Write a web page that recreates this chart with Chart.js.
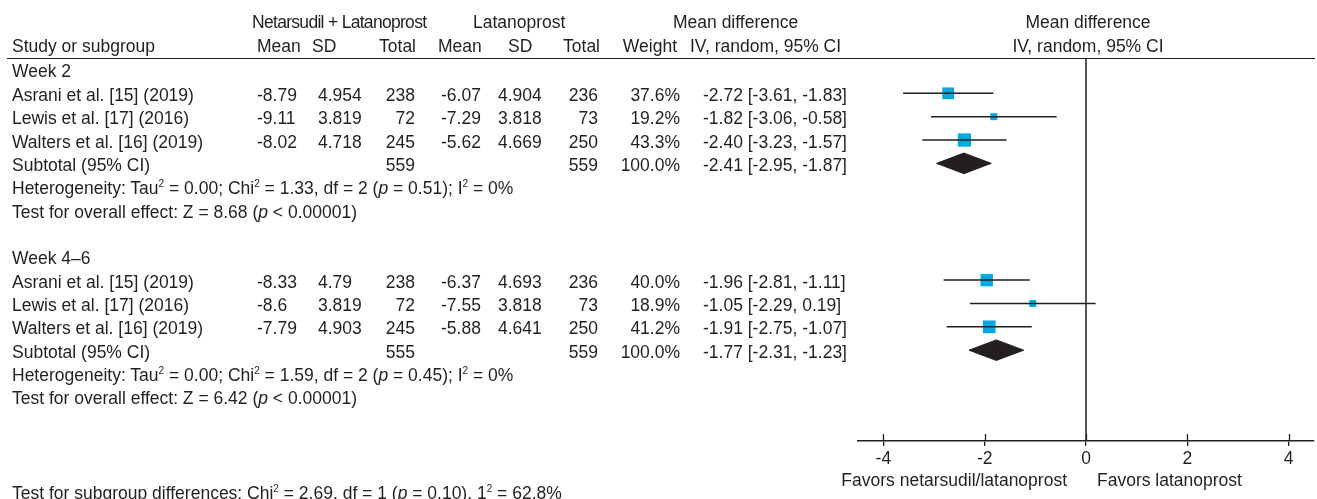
<!DOCTYPE html>
<html><head><meta charset="utf-8">
<script src="https://cdn.jsdelivr.net/npm/chart.js@4/dist/chart.umd.min.js"></script>
<style>
html,body{margin:0;padding:0;background:#fff;}
#wrap{position:relative;width:1317px;height:499px;overflow:hidden;background:#fff;}
#c{position:absolute;left:0;top:0;}
#txt{position:absolute;left:0;top:0;width:1317px;height:499px;pointer-events:none;font-family:"Liberation Sans",Arial,Helvetica,sans-serif;font-size:17.5px;color:#231f20;}
.t{position:absolute;white-space:nowrap;line-height:20px;}
.l{transform:translate(0,-50%);}
.r{transform:translate(-100%,-50%);}
.c{transform:translate(-50%,-50%);}
.tight{letter-spacing:-0.7px;}
sup{font-size:10px;vertical-align:7px;line-height:0;}
#hline{position:absolute;left:7px;width:1308px;height:1.5px;background:#231f20;}
</style></head>
<body><div id="wrap"><canvas id="c" width="1317" height="499"></canvas><div id="txt"></div></div>
<script>
// ---------- DATA ----------
const groups = ["Week 2", "Week 4\u20136"];
const studies = ["Asrani et al. [15] (2019)", "Lewis et al. [17] (2016)", "Walters et al. [16] (2019)"];
// Netarsudil + Latanoprost
const nlMean = [[-8.79, -9.11, -8.02], [-8.33, -8.6, -7.79]];
const nlSD   = [[4.954, 3.819, 4.718], [4.79, 3.819, 4.903]];
const nlN    = [[238, 72, 245], [238, 72, 245]];
// Latanoprost
const lMean  = [[-6.07, -7.29, -5.62], [-6.37, -7.55, -5.88]];
const lSD    = [[4.904, 3.818, 4.669], [4.693, 3.818, 4.641]];
const lN     = [[236, 73, 250], [236, 73, 250]];
// Mean difference
const weight = [[37.6, 19.2, 43.3], [40.0, 18.9, 41.2]];
const md     = [[-2.72, -1.82, -2.40], [-1.96, -1.05, -1.91]];
const ciLo   = [[-3.61, -3.06, -3.23], [-2.81, -2.29, -2.75]];
const ciHi   = [[-1.83, -0.58, -1.57], [-1.11, 0.19, -1.07]];
// Subtotals
const subNlN = [559, 555];
const subLN  = [559, 559];
const subWeight = [100.0, 100.0];
const subMD  = [-2.41, -1.77];
const subLo  = [-2.95, -2.31];
const subHi  = [-1.87, -1.23];
// Heterogeneity / overall effect
const tau2 = [0.00, 0.00];
const chi2 = [1.33, 1.59];
const dfHet = [2, 2];
const pHet = [0.51, 0.45];
const i2 = [0, 0];
const zVal = [8.68, 6.42];
const pZ = ["< 0.00001", "< 0.00001"];
// Subgroup differences
const sgChi2 = 2.69, sgDf = 1, sgP = 0.10, sgI2 = 62.8;
// Axis
const xTicks = [-4, -2, 0, 2, 4];
const xRange = [-4.5, 4.5];
const groupStartRow = [0, 8];

// ---------- BUILD ----------
const INK = '#231f20', BLUE = '#00a9e0';
const datasets = [];
const markerPts = [], markerR = [];
groups.forEach((g, gi) => {
  const base = groupStartRow[gi];
  studies.forEach((s, si) => {
    const row = base + 1 + si;
    datasets.push({data: [{x: ciLo[gi][si], y: row}, {x: ciHi[gi][si], y: row}],
      borderColor: INK, borderWidth: 1.5, pointRadius: 0, fill: false});
    markerPts.push({x: md[gi][si], y: row});
    const side = 2 + 0.26 * weight[gi][si];
    markerR.push(side / Math.SQRT2);
  });
  const r = base + 4, h = 0.44;
  datasets.push({data: [{x: subLo[gi], y: r}, {x: subMD[gi], y: r - h}, {x: subHi[gi], y: r}, {x: subMD[gi], y: r + h}, {x: subLo[gi], y: r}],
    borderColor: INK, borderWidth: 1, backgroundColor: INK, pointRadius: 0, fill: 'shape', tension: 0});
});
datasets.push({data: markerPts, showLine: false, pointStyle: 'rect', pointRadius: markerR,
  pointBackgroundColor: BLUE, pointBorderWidth: 0, pointBorderColor: BLUE});
const yMin = -0.47, yMax = 15.89;
datasets.push({data: [{x: 0, y: yMin}, {x: 0, y: yMax}], borderColor: INK, borderWidth: 1.5, pointRadius: 0, fill: false});

const stubPlugin = {
  id: 'stubs',
  afterDatasetsDraw(chart) {
    const xs = chart.scales.x, ctx = chart.ctx;
    ctx.save(); ctx.strokeStyle = INK; ctx.lineWidth = 1.3;
    xs.ticks.forEach(t => {
      const px = Math.round(xs.getPixelForValue(t.value)) + 0.5;
      ctx.beginPath(); ctx.moveTo(px, xs.top); ctx.lineTo(px, xs.top - 7); ctx.stroke();
    });
    ctx.restore();
  }
};

const chart = new Chart(document.getElementById('c'), {
  type: 'line',
  data: {datasets},
  plugins: [stubPlugin],
  options: {
    responsive: false, animation: false, events: [],
    layout: {autoPadding: false, padding: {left: 858, right: 3, top: 59, bottom: 0}},
    plugins: {legend: {display: false}, tooltip: {enabled: false}},
    scales: {
      x: {type: 'linear', position: 'bottom', min: xRange[0], max: xRange[1],
        afterBuildTicks: s => { s.ticks = xTicks.map(v => ({value: v})); },
        afterFit: s => { s.height = 58; s.paddingLeft = 0; s.paddingRight = 0; },
        grid: {display: true, drawOnChartArea: false, drawTicks: true, tickLength: 5, color: INK, lineWidth: 1.3},
        border: {display: true, color: INK, width: 1.5},
        ticks: {color: INK, padding: 3, autoSkip: false, maxRotation: 0,
          font: {family: '"Liberation Sans", Arial, sans-serif', size: 17.5},
          callback: v => String(v)}
      },
      y: {type: 'linear', display: false, reverse: true, min: yMin, max: yMax}
    }
  }
});

// ---------- TEXT ----------
const txt = document.getElementById('txt');
const ys = chart.scales.y, xs = chart.scales.x;
const py = r => ys.getPixelForValue(r) + 1.5;
function put(html, x, y, cls) {
  const d = document.createElement('div');
  d.className = 't ' + cls; d.innerHTML = html;
  d.style.left = x + 'px'; d.style.top = y + 'px';
  txt.appendChild(d);
}
const f2 = v => v.toFixed(2);
const hdr1 = py(-2.12), hdr2 = py(-1.08);
put('Netarsudil + Latanoprost', 252, hdr1, 'l tight');
put('Latanoprost', 473, hdr1, 'l');
put('Mean difference', 673, hdr1, 'l');
put('Mean difference', xs.getPixelForValue(0) + 2, hdr1, 'c');
put('Study or subgroup', 12, hdr2, 'l');
put('Mean', 257, hdr2, 'l'); put('SD', 312, hdr2, 'l'); put('Total', 416, hdr2, 'r');
put('Mean', 438, hdr2, 'l'); put('SD', 508, hdr2, 'l'); put('Total', 600, hdr2, 'r');
put('Weight', 677, hdr2, 'r'); put('IV, random, 95% CI', 690, hdr2, 'l');
put('IV, random, 95% CI', xs.getPixelForValue(0) + 2, hdr2, 'c');
const hl = document.createElement('div'); hl.id = 'hline'; hl.style.top = (ys.top - 1.5) + 'px'; txt.appendChild(hl);

groups.forEach((g, gi) => {
  const base = groupStartRow[gi];
  put(g, 12, py(base), 'l');
  studies.forEach((s, si) => {
    const y = py(base + 1 + si);
    put(s, 12, y, 'l');
    put(String(nlMean[gi][si]), 257, y, 'l');
    put(String(nlSD[gi][si]), 318, y, 'l');
    put(String(nlN[gi][si]), 415, y, 'r');
    put(String(lMean[gi][si]), 441, y, 'l');
    put(String(lSD[gi][si]), 498, y, 'l');
    put(String(lN[gi][si]), 598, y, 'r');
    put(weight[gi][si].toFixed(1) + '%', 680, y, 'r');
    put(f2(md[gi][si]) + ' [' + f2(ciLo[gi][si]) + ', ' + f2(ciHi[gi][si]) + ']', 703, y, 'l');
  });
  const ys4 = py(base + 4);
  put('Subtotal (95% CI)', 12, ys4, 'l');
  put(String(subNlN[gi]), 415, ys4, 'r');
  put(String(subLN[gi]), 598, ys4, 'r');
  put(subWeight[gi].toFixed(1) + '%', 680, ys4, 'r');
  put(f2(subMD[gi]) + ' [' + f2(subLo[gi]) + ', ' + f2(subHi[gi]) + ']', 703, ys4, 'l');
  put('Heterogeneity: Tau<sup>2</sup> = ' + f2(tau2[gi]) + '; Chi<sup>2</sup> = ' + f2(chi2[gi]) +
      ', df = ' + dfHet[gi] + ' (<i>p</i> = ' + f2(pHet[gi]) + '); I<sup>2</sup> = ' + i2[gi] + '%', 12, py(base + 5), 'l');
  put('Test for overall effect: Z = ' + f2(zVal[gi]) + ' (<i>p</i> ' + pZ[gi] + ')', 12, py(base + 6), 'l');
});
put('Test for subgroup differences: Chi<sup>2</sup> = ' + f2(sgChi2) + '. df = ' + sgDf + ' (<i>p</i> = ' + f2(sgP) +
    '). 1<sup>2</sup> = ' + sgI2.toFixed(1) + '%', 12, py(18.05), 'l');
const x0 = xs.getPixelForValue(0);
put('Favors netarsudil/latanoprost', x0 - 19, xs.top + 39, 'r');
put('Favors latanoprost', x0 + 11, xs.top + 39, 'l');
</script>
</body></html>
